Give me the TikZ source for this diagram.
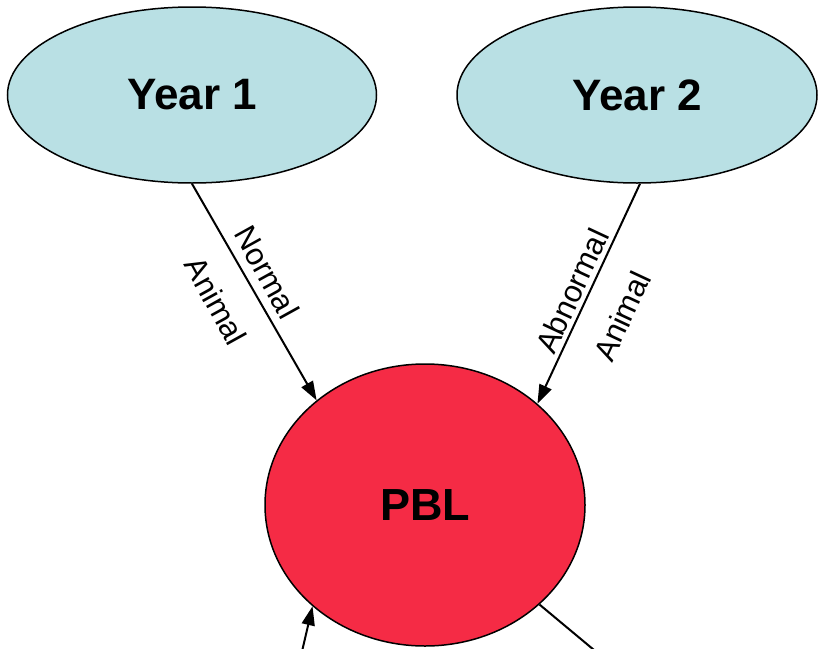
\documentclass[tikz,border=0pt]{standalone}
\usepackage{fontspec}
\setmainfont{Liberation Sans}
\usetikzlibrary{shapes.geometric,arrows.meta}
\definecolor{yearfill}{RGB}{185,224,228}
\definecolor{pblfill}{RGB}{245,43,69}
\begin{document}
\begin{tikzpicture}[x=1pt,y=1pt,
  yearbox/.style={ellipse,draw=black,line width=1.5pt,fill=yearfill,inner sep=0pt,
    minimum width=369pt,minimum height=176pt,font=\fontsize{44}{50}\selectfont\bfseries},
  pblbox/.style={ellipse,draw=black,line width=1.5pt,fill=pblfill,inner sep=0pt,
    minimum width=320pt,minimum height=282pt,font=\fontsize{45}{50}\selectfont\bfseries},
  link/.style={line width=2pt,-{Triangle[length=19pt,width=13pt]}},
  plain/.style={line width=2pt},
  tag/.style={font=\fontsize{31}{34}\selectfont,inner sep=0pt}]
\useasboundingbox (0,0) rectangle (819,-648);
\clip (0,0) rectangle (819,-648);

\node[yearbox] (y1) at (192,-95) {Year 1};
\node[yearbox,minimum width=360pt] (y2) at (637,-95) {Year 2};
\node[pblbox] (pbl) at (425,-505) {PBL};

\coordinate (inlow) at (300,-660);
\coordinate (outlow) at (606,-660);

\draw[link] (y1.south) -- (pbl.136.3);
\draw[link] ([xshift=3pt]y2.south) -- (pbl.42.4);
\draw[link] (inlow) -- (pbl.222.3);
\draw[plain] (pbl.319) -- (outlow);

\node[tag,rotate=-61] (n1) at (267,-272) {Normal};
\node[tag,rotate=-61] (a1) at (216,-301) {Animal};
\node[tag,rotate=65] (n2) at (572,-291) {Abnormal};
\node[tag,rotate=65] (a2) at (622,-316) {Animal};
\end{tikzpicture}
\end{document}
